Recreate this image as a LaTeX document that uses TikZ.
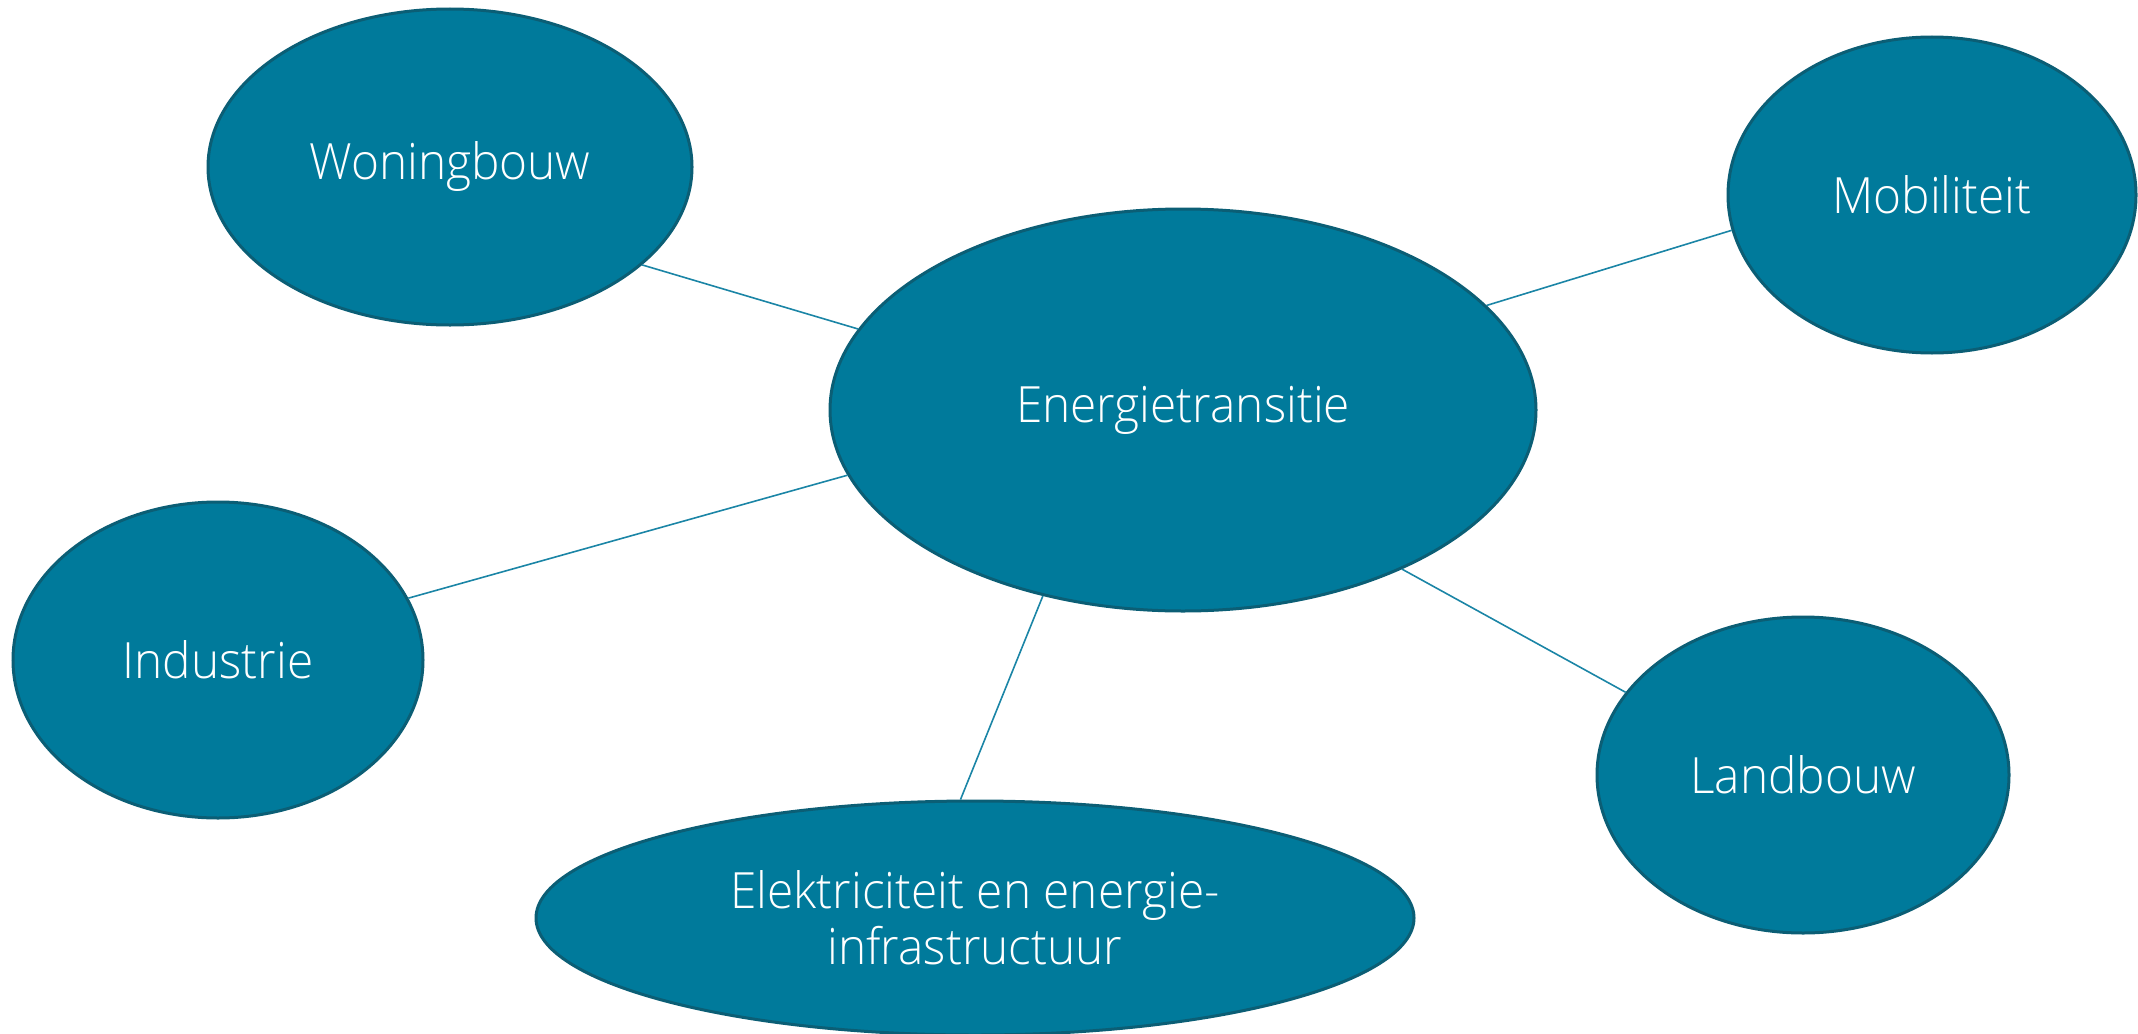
\documentclass[tikz,border=0pt]{standalone}
\usepackage{fontspec}
\setmainfont{Open Sans Light}[FakeStretch=0.955]
\usetikzlibrary{shapes.geometric}
\definecolor{tealfill}{HTML}{007A9B}
\definecolor{tealrim}{HTML}{0B5E75}
\definecolor{tealline}{HTML}{1B85A6}
\tikzstyle{bol}=[ellipse,draw=tealrim,line width=3pt,fill=tealfill,text=white,inner sep=0pt,font=\fontsize{50}{56}\selectfont,align=center]
\tikzstyle{lijn}=[draw=tealline,line width=1.6pt]

\begin{document}
\begin{tikzpicture}[x=1pt,y=-1pt]
\useasboundingbox (0,0) rectangle (2138,1033);
\node[bol,minimum width=706pt,minimum height=402pt] (energie) at (1183,410) {Energietransitie};
\node[bol,minimum width=484pt,minimum height=316pt] (woning) at (450,167) {Woningbouw};
\node[bol,minimum width=408pt,minimum height=316pt] (mobiel) at (1932,195) {Mobiliteit};
\node[bol,minimum width=410pt,minimum height=316pt] (industrie) at (218,660) {Industrie};
\node[bol,minimum width=412pt,minimum height=316pt] (land) at (1803,775) {Landbouw};
\node[bol,minimum width=878pt,minimum height=234pt] (elek) at (975,918) {Elektriciteit en energie-\\infrastructuur};
\draw[lijn] (energie.166.7) -- (woning.-27);
\draw[lijn] (energie.19.6) -- (mobiel.190.5);
\draw[lijn] (energie.191.9) -- (industrie.18);
\draw[lijn] (energie.-36.2) -- (land.155.9);
\draw[lijn] (energie.233.3) -- (elek.97.3);
\end{tikzpicture}
\end{document}
